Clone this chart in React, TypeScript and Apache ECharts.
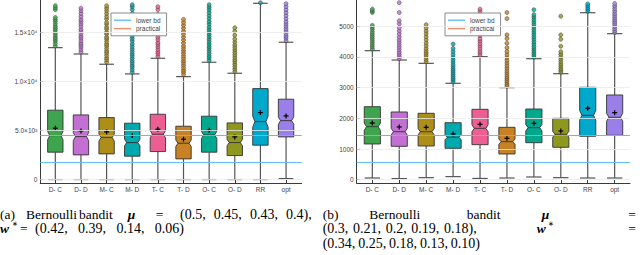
import React, { useEffect, useRef } from "react";
import * as echarts from "echarts";

const CATS = ["D- C", "D- D", "M- C", "M- D", "T- C", "T- D", "O- C", "O- D", "RR", "opt"];
const COLORS = ["#3ea44e", "#c271d2", "#ac8e18", "#00a9ad", "#ed5e93", "#c68225", "#00a98d", "#8e971e", "#00a8cb", "#9b7fe9"];
const RUNS = 250;

// (a) Bernoulli bandit, 4 arms
const aLow = [0, 0, 0, 0, 0, 0, 0, 0, 0, 100];
const aQ1 = [2787, 2513, 2614, 2380, 2850, 2105, 2787, 2442, 3500, 4344];
const aMed = [4476, 4375, 4275, 3765, 4615, 3700, 4547, 3765, 5900, 6000];
const aQ3 = [7060, 6582, 6310, 5737, 6650, 5430, 6450, 5768, 9258, 8180];
const aHigh = [13430, 12787, 11740, 10753, 12350, 10480, 11943, 10824, 17945, 13980];
const aMean = [5229, 4954, 4852, 4476, 5125, 4110, 5025, 4344, 6816, 6480];
const aOut = [
  [13600, 13850, 14100, 14300, 14500, 14750, 14950, 15200, 15400, 15600, 15850, 16100, 16300, 16500, 17300, 17500, 17700],
  [13000, 13250, 13500, 13700, 13900, 14150, 14400, 14600, 14850, 15100, 15300, 15600, 15850, 16100, 16300, 16600, 16900, 17200, 17450],
  [11950, 12200, 12400, 12650, 12900, 13100, 13350, 13600, 13800, 14050, 14300, 14500, 14800, 15000, 15300, 15500, 15800, 16000, 16350, 16600, 16900, 17200, 17450, 17700],
  [10950, 11200, 11450, 11650, 11900, 12100, 12350, 12600, 12800, 13050, 13300, 13550, 13800, 14100, 14350, 14600, 14900, 15200, 15500, 15750, 16100, 16500, 16900, 17300, 17600, 17800],
  [12550, 12800, 13000, 13250, 13500, 13750, 13950, 14250, 14500, 14800, 15100, 15500, 15900, 16350, 16800, 17300, 17600],
  [10700, 10950, 11150, 11400, 11650, 11900, 12100, 12350, 12600, 12850, 13100, 13350, 13600, 13900, 14200, 14500, 14800, 15100, 15400, 15700, 16000, 16300],
  [12150, 12400, 12600, 12850, 13100, 13350, 13550, 13800, 14050, 14300, 14550, 14800, 15050, 15300, 15550, 15850, 16100, 16400, 16700, 17000, 17300, 17550, 17800],
  [11000, 11250, 11500, 11750, 12000, 12200, 12450, 12700, 12950, 13200, 13450, 13700, 14000, 14300, 14700, 15100, 15450],
  [18000],
  [14150, 14400, 14600, 14850, 15100, 15350, 15600, 15850, 16100, 16400, 16700, 17000, 17300, 17600, 17900],
];
const aLowerBd = 1730;
const aPractical = 4517;
const aTicks = [0, 5000, 10000, 15000];
const aTickLabels = ["0", "5.0×10³", "1.0×10⁴", "1.5×10⁴"];

// (b) Bernoulli bandit, 5 arms
const bLow = [55, 35, 66, 99, 40, 55, 88, 66, 55, 55];
const bQ1 = [1164, 1088, 1098, 1023, 1141, 838, 1206, 1056, 1415, 1447];
const bMed = [1728, 1565, 1565, 1382, 1675, 1239, 1695, 1480, 2099, 2034];
const bQ3 = [2380, 2207, 2164, 1858, 2294, 1707, 2304, 2001, 3012, 2761];
const bHigh = [4205, 3900, 3793, 3142, 4010, 3000, 3944, 3455, 5443, 4759];
const bMean = [1848, 1718, 1707, 1490, 1805, 1349, 1838, 1587, 2327, 2184];
const bOut = [
  [4260, 4330, 4400, 4470, 4540, 4610, 4680, 4750, 4820, 4900, 4970, 5030, 5450, 5500, 5560],
  [3950, 4020, 4090, 4160, 4240, 4320, 4400, 4480, 4560, 4650, 4750, 4850, 4950, 5080, 5180, 5450, 5770],
  [3850, 3920, 3990, 4060, 4130, 4200, 4280, 4370, 4460, 4560, 4660, 4760, 4850, 4950, 5050],
  [3190, 3250, 3310, 3370, 3430, 3490, 3550, 3610, 3680, 3750, 3830, 3910, 3990, 4080, 4180, 4280, 4420],
  [4060, 4130, 4200, 4280, 4360, 4440, 4520, 4600, 4700, 4800, 5400, 5480, 5560],
  [3050, 3110, 3170, 3230, 3290, 3350, 3420, 3490, 3560, 3640, 3720, 3800, 3890, 3980, 4080, 4180, 4300, 4450, 4600, 4720, 5250, 5450],
  [3990, 4060, 4130, 4200, 4270, 4340, 4420, 4500, 4580, 4660, 4740, 4820, 4900, 4980, 5060, 5140, 5220, 5300, 5380, 5540],
  [3510, 3570, 3630, 3700, 3770, 3850, 3930, 4010, 4090, 4170, 4350, 4580, 4720, 5330],
  [5490, 5550, 5610, 5670, 5730],
  [4800, 4860, 4930, 5000, 5070, 5140, 5210, 5280, 5350, 5420, 5500, 5580, 5660, 5740],
];
const bLowerBd = 567;
const bPractical = 1447;
const bTicks = [0, 1000, 2000, 3000, 4000, 5000];
const bTickLabels = ["0", "1000", "2000", "3000", "4000", "5000"];

// caption tuples
const aMu = ["(0.5,", "0.45,", "0.43,", "0.4),"];
const aW = ["(0.42,", "0.39,", "0.14,", "0.06)"];
const bMu = ["(0.3,", "0.21,", "0.2,", "0.19,", "0.18),"];
const bW = ["(0.34,", "0.25,", "0.18,", "0.13,", "0.10)"];

const BOX_W = 0.6;
const SANS = '"Liberation Sans", Arial, sans-serif';
const SERIF = '"Liberation Serif", "Times New Roman", serif';
const AXIS_COLOR = "#3a3a3a";
const LABEL_COLOR = "#444";

function boxData(low: number[], q1: number[], med: number[], q3: number[], high: number[], mean: number[]) {
  return CATS.map((_, i) => {
    const notch = (1.57 * (q3[i] - q1[i])) / Math.sqrt(RUNS);
    return [i, low[i], q1[i], med[i], q3[i], high[i], mean[i], notch];
  });
}

function renderBox(params: any, api: any) {
  const i = api.value(0);
  const low = api.value(1), q1 = api.value(2), med = api.value(3), q3 = api.value(4);
  const high = api.value(5), mean = api.value(6), notch = api.value(7);
  const color = COLORS[i];
  const c = (v: number) => api.coord([i, v]);
  const hw = api.size([BOX_W, 0])[0] / 2;
  const x = c(med)[0];
  const yq1 = c(q1)[1], yq3 = c(q3)[1], ymed = c(med)[1];
  const ynt = c(med + notch)[1], ynb = c(med - notch)[1];
  const ylo = c(low)[1], yhi = c(high)[1], ymean = c(mean)[1];
  const nw = hw * 0.72;
  const whisk = { stroke: "#555", lineWidth: 1.2 };
  const capW = hw * 0.95;
  return {
    type: "group",
    children: [
      { type: "line", shape: { x1: x, y1: yq3, x2: x, y2: yhi }, style: whisk },
      { type: "line", shape: { x1: x, y1: yq1, x2: x, y2: ylo }, style: whisk },
      { type: "line", shape: { x1: x - capW, y1: yhi, x2: x + capW, y2: yhi }, style: whisk },
      { type: "line", shape: { x1: x - capW, y1: ylo, x2: x + capW, y2: ylo }, style: whisk },
      {
        type: "polygon",
        shape: {
          points: [
            [x - hw, yq3], [x + hw, yq3], [x + hw, ynt], [x + nw, ymed], [x + hw, ynb], [x + hw, yq1],
            [x - hw, yq1], [x - hw, ynb], [x - nw, ymed], [x - hw, ynt],
          ],
        },
        style: { fill: color, stroke: "#333", lineWidth: 0.9 },
      },
      { type: "line", shape: { x1: x - nw, y1: ymed, x2: x + nw, y2: ymed }, style: { stroke: "#333", lineWidth: 0.9 } },
      { type: "line", shape: { x1: x - 2.5, y1: ymean, x2: x + 2.5, y2: ymean }, style: { stroke: "#000", lineWidth: 1.2 } },
      { type: "line", shape: { x1: x, y1: ymean - 2.5, x2: x, y2: ymean + 2.5 }, style: { stroke: "#000", lineWidth: 1.2 } },
    ],
  };
}

function outlierData(out: number[][]) {
  const d: any[] = [];
  out.forEach((vals, i) => vals.forEach((v) => d.push({ value: [i, v], itemStyle: { color: COLORS[i] } })));
  return d;
}

function panelSeries(idx: number, low: number[], q1: number[], med: number[], q3: number[], high: number[], mean: number[], out: number[][], ticks: number[], lowerBd: number, practical: number) {
  return [
    {
      type: "line",
      name: "_grid" + idx,
      xAxisIndex: idx,
      yAxisIndex: idx,
      data: [],
      silent: true,
      z: 0,
      markLine: {
        silent: true,
        symbol: "none",
        label: { show: false },
        lineStyle: { color: "#ebebeb", width: 0.8, type: "solid" },
        data: ticks.map((t) => ({ yAxis: t })),
      },
    },
    {
      type: "custom",
      name: "box" + idx,
      xAxisIndex: idx,
      yAxisIndex: idx,
      renderItem: renderBox,
      encode: { x: 0, y: [1, 2, 3, 4, 5] },
      data: boxData(low, q1, med, q3, high, mean),
      z: 2,
    },
    {
      type: "scatter",
      name: "out" + idx,
      xAxisIndex: idx,
      yAxisIndex: idx,
      symbol: "circle",
      symbolSize: 4,
      itemStyle: { borderColor: "#333", borderWidth: 0.6 },
      data: outlierData(out),
      z: 3,
    },
    {
      type: "line",
      name: "lower bd",
      xAxisIndex: idx,
      yAxisIndex: idx,
      data: [],
      color: "#63bff6",
      z: 4,
      markLine: {
        silent: true,
        symbol: "none",
        label: { show: false },
        lineStyle: { color: "#63bff6", width: 1.2, type: "solid" },
        data: [{ yAxis: lowerBd }],
      },
    },
    {
      type: "line",
      name: "practical",
      xAxisIndex: idx,
      yAxisIndex: idx,
      data: [],
      color: "#ea8e70",
      z: 4,
      markLine: {
        silent: true,
        symbol: "none",
        label: { show: false },
        lineStyle: { color: "#ea8e70", width: 1.2, type: "solid" },
        data: [{ yAxis: practical }],
      },
    },
  ];
}

function xAxisCfg(idx: number, min: number, max: number) {
  const vals = CATS.map((_, i) => i);
  return {
    type: "value",
    gridIndex: idx,
    min,
    max,
    axisLine: { show: true, onZero: false, lineStyle: { color: AXIS_COLOR, width: 1 } },
    axisTick: { show: true, inside: true, length: 3, customValues: vals, lineStyle: { color: AXIS_COLOR } },
    axisLabel: {
      customValues: vals,
      formatter: (v: number) => CATS[Math.round(v)] ?? "",
      fontSize: 6.5,
      fontFamily: SANS,
      color: LABEL_COLOR,
      margin: 3,
    },
    splitLine: { show: false },
  };
}

function yAxisCfg(idx: number, min: number, max: number, ticks: number[], labels: string[]) {
  return {
    type: "value",
    gridIndex: idx,
    min,
    max,
    axisLine: { show: true, onZero: false, lineStyle: { color: AXIS_COLOR, width: 1 } },
    axisTick: { show: true, inside: true, length: 3, customValues: ticks, lineStyle: { color: AXIS_COLOR } },
    axisLabel: {
      customValues: ticks,
      formatter: (v: number) => labels[ticks.indexOf(v)] ?? "",
      fontSize: 6.5,
      fontFamily: SANS,
      color: LABEL_COLOR,
      margin: 3,
    },
    splitLine: { show: false },
  };
}

function legendCfg(left: number) {
  return {
    left,
    top: 13,
    orient: "vertical",
    data: [
      { name: "lower bd", icon: "rect" },
      { name: "practical", icon: "rect" },
    ],
    itemWidth: 17,
    itemHeight: 1.4,
    itemGap: 0,
    padding: [3, 6, 3, 3],
    borderColor: "#8a8a8a",
    borderWidth: 1,
    backgroundColor: "#fff",
    borderRadius: 0,
    selectedMode: false,
    textStyle: { fontSize: 6.5, fontFamily: SANS, color: LABEL_COLOR, lineHeight: 8.4 },
  };
}

function txt(text: string, x: number, y: number, opts: any = {}) {
  return {
    type: "text",
    x,
    y,
    style: {
      text,
      font: `${opts.italic ? "italic " : ""}${opts.bold ? "bold " : ""}${opts.size ?? 13.5}px ${SERIF}`,
      fill: "#000",
      textAlign: opts.align ?? "left",
      textVerticalAlign: "middle",
    },
  };
}

// place tuple pieces so the group runs from x0 to x1 (justified like the LaTeX caption)
function tuple(parts: string[], x0: number, x1: number, y: number) {
  const CW: Record<string, number> = { "(": 0.333, ")": 0.333, ".": 0.25, ",": 0.25 };
  const size = 14;
  const widths = parts.map((p) => p.split("").reduce((s, ch) => s + (CW[ch] ?? 0.5), 0) * size);
  const total = widths.reduce((a, b) => a + b, 0);
  const gap = (x1 - x0 - total) / (parts.length - 1);
  let x = x0;
  return parts.map((p, k) => {
    const el = txt(p, x, y, { size });
    x += widths[k] + gap;
    return el;
  });
}

export default function App() {
  const ref = useRef<HTMLDivElement>(null);
  useEffect(() => {
    if (!ref.current) return;
    const chart = echarts.init(ref.current, undefined, { renderer: "svg" });
    const L1 = 214, L2 = 228.5, L3 = 243;
    chart.setOption({
      animation: false,
      backgroundColor: "#fff",
      grid: [
        { left: 40.3, top: 0, width: 261.4, height: 183 },
        { left: 356.7, top: 0, width: 273.3, height: 183 },
      ],
      xAxis: [xAxisCfg(0, -0.586, 9.61), xAxisCfg(1, -0.58, 9.57)],
      yAxis: [
        yAxisCfg(0, -350, 18280, aTicks, aTickLabels),
        yAxisCfg(1, -108, 5857, bTicks, bTickLabels),
      ],
      legend: [legendCfg(111), legendCfg(445)],
      series: [
        ...panelSeries(0, aLow, aQ1, aMed, aQ3, aHigh, aMean, aOut, aTicks, aLowerBd, aPractical),
        ...panelSeries(1, bLow, bQ1, bMed, bQ3, bHigh, bMean, bOut, bTicks, bLowerBd, bPractical),
      ],
      graphic: [
        txt("(a)", 0, L1),
        txt("Bernoulli", 26, L1),
        txt("bandit", 79, L1),
        txt("μ", 127.7, L1, { bold: true, italic: true }),
        txt("=", 155.7, L1),
        ...tuple(aMu, 180, 311.7, L1),
        txt("w", 0, L2, { bold: true, italic: true }),
        txt("∗", 11.5, L2 - 4.5, { size: 7 }),
        txt("=", 20, L2),
        ...tuple(aW, 35, 184, L2),
        txt("(b)", 322.7, L1),
        txt("Bernoulli", 369.3, L1),
        txt("bandit", 466.7, L1),
        txt("μ", 541.7, L1, { bold: true, italic: true }),
        txt("=", 628.3, L1),
        ...tuple(bMu, 322.7, 476.7, L2),
        txt("w", 536.7, L2, { bold: true, italic: true }),
        txt("∗", 548.2, L2 - 4.5, { size: 7 }),
        txt("=", 628.3, L2),
        ...tuple(bW, 322.7, 480, L3),
      ],
    });
    return () => chart.dispose();
  }, []);
  return <div ref={ref} style={{ position: "absolute", left: 0, top: 0, width: 640, height: 255 }} />;
}
